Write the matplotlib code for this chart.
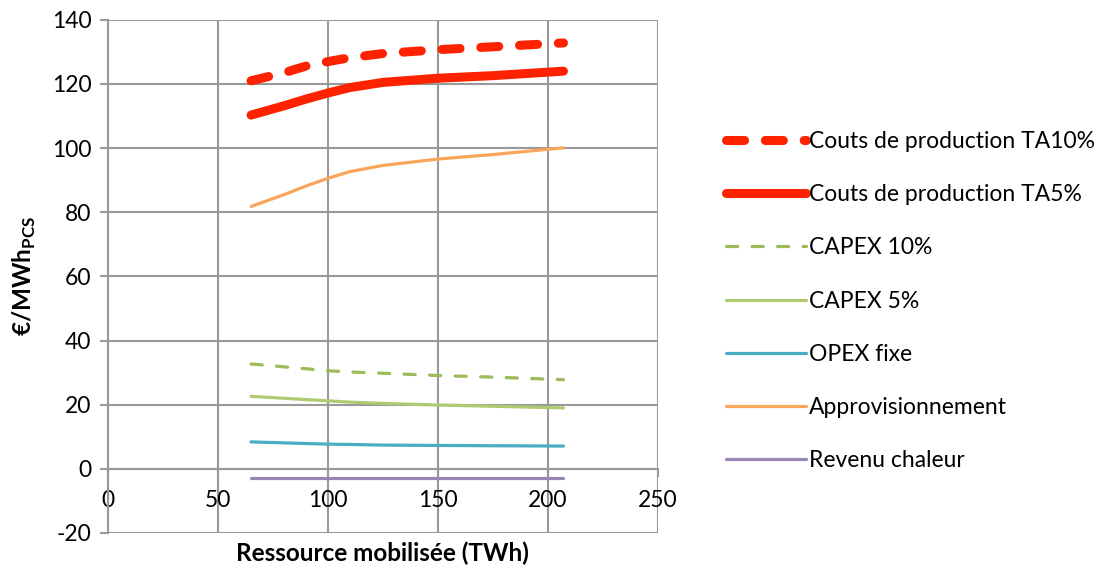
import matplotlib.pyplot as plt

plt.rcParams['font.family'] = ['Lato', 'DejaVu Sans']
plt.rcParams['axes.unicode_minus'] = False
plt.rcParams['mathtext.fontset'] = 'custom'
plt.rcParams['mathtext.bf'] = 'Lato:bold'
plt.rcParams['mathtext.rm'] = 'Lato'

# Values
ressource = [65, 80, 90, 100, 110, 125, 150, 175, 207]
couts_ta10 = [121.0, 123.5, 125.6, 127.0, 128.2, 129.5, 130.7, 131.6, 132.8]
couts_ta5 = [110.3, 113.2, 115.3, 117.2, 118.9, 120.5, 121.8, 122.6, 124.0]
capex_10 = [32.7, 31.8, 31.2, 30.6, 30.2, 29.8, 29.1, 28.6, 27.8]
capex_5 = [22.6, 22.0, 21.6, 21.2, 20.8, 20.4, 19.9, 19.5, 19.0]
opex_fixe = [8.4, 8.1, 7.9, 7.7, 7.6, 7.4, 7.3, 7.2, 7.1]
approvisionnement = [81.8, 85.5, 88.2, 90.6, 92.7, 94.6, 96.6, 98.0, 100.1]
revenu_chaleur = [-3.0, -3.0, -3.0, -3.0, -3.0, -3.0, -3.0, -3.0, -3.0]

x_ticks = [0, 50, 100, 150, 200, 250]
y_ticks = [-20, 0, 20, 40, 60, 80, 100, 120, 140]

fig = plt.figure(figsize=(11.06, 5.67), dpi=100)
ax = fig.add_axes([0.0977, 0.06, 0.4973, 0.905])

ax.plot(ressource, couts_ta10, color='#FF2200', lw=6.5, dashes=(2.0, 2.3),
        dash_capstyle='round', solid_capstyle='round', label='Couts de production TA10%')
ax.plot(ressource, couts_ta5, color='#FF2200', lw=6.5, solid_capstyle='round',
        label='Couts de production TA5%')
ax.plot(ressource, capex_10, color='#9BBB59', lw=2.3, dashes=(3.5, 4.5),
        dash_capstyle='round', label='CAPEX 10%')
ax.plot(ressource, capex_5, color='#AFCB72', lw=2.3, solid_capstyle='round', label='CAPEX 5%')
ax.plot(ressource, opex_fixe, color='#4BACC6', lw=2.3, solid_capstyle='round', label='OPEX fixe')
ax.plot(ressource, approvisionnement, color='#F9A65A', lw=2.3, solid_capstyle='round',
        label='Approvisionnement')
ax.plot(ressource, revenu_chaleur, color='#9A85B8', lw=2.3, solid_capstyle='round',
        label='Revenu chaleur')

ax.set_xlim(0, 250)
ax.set_ylim(-20, 140)
ax.set_xticks(x_ticks)
ax.set_yticks(y_ticks)
ax.grid(True, color='#999999', lw=1.5)
ax.set_axisbelow(True)

for side in ['top', 'right']:
    ax.spines[side].set_visible(False)
ax.spines['left'].set_color('#999999')
ax.spines['left'].set_linewidth(1.5)
ax.spines['bottom'].set_position(('data', 0))
ax.spines['bottom'].set_color('#999999')
ax.spines['bottom'].set_linewidth(1.5)

ax.tick_params(axis='y', colors='#999999', labelcolor='black', labelsize=16.5,
               length=6, width=1.5, pad=6)
ax.tick_params(axis='x', colors='#999999', labelcolor='black', labelsize=16.5,
               length=6, width=1.5, pad=9)

ax.set_ylabel(r'€/MWh$_{\mathbf{PCS}}$', fontsize=17.5, fontweight='bold', labelpad=10)
fig.text(0.346, 0.024, 'Ressource mobilisée (TWh)', ha='center', va='center',
         fontsize=17.5, fontweight='bold')

fig.legend(loc='upper left', bbox_to_anchor=(0.638, 0.806), frameon=False,
           fontsize=16.5, handlelength=3.5, handletextpad=0.1, labelspacing=1.41)

fig.savefig('out.png', dpi=100)
